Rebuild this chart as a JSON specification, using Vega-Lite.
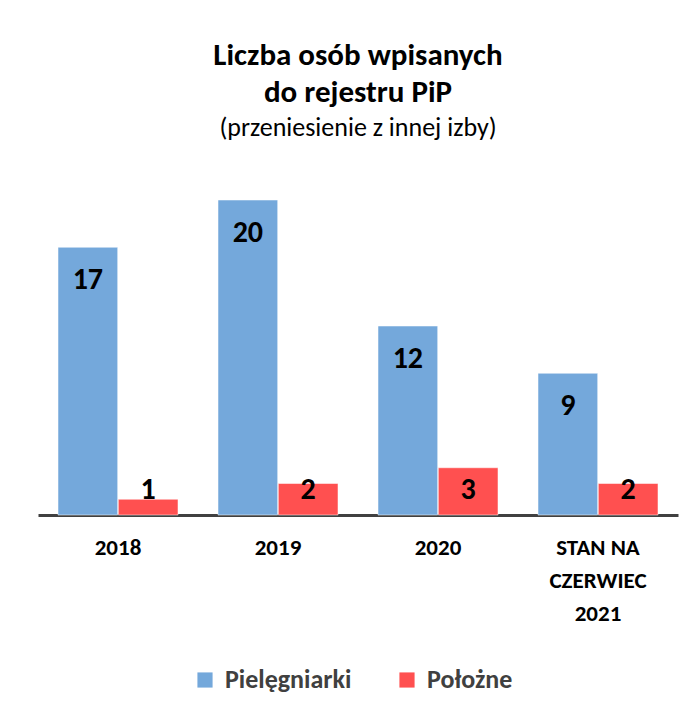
{
  "$schema": "https://vega.github.io/schema/vega-lite/v6.json",
  "width": 640,
  "height": 315,
  "padding": {"left": 38, "top": 39, "right": 20, "bottom": 10},
  "background": "white",
  "title": {
    "text": ["Liczba osób wpisanych", "do rejestru PiP"],
    "subtitle": "(przeniesienie z innej izby)",
    "fontSize": 31,
    "fontWeight": "bold",
    "lineHeight": 37,
    "font": "Carlito, Lato",
    "color": "black",
    "subtitleFont": "Carlito, Lato",
    "subtitleFontSize": 26,
    "subtitleColor": "black",
    "subtitlePadding": 6,
    "anchor": "middle",
    "offset": 58
  },
  "data": {
    "values": [
      {"category": "2018", "series": "Pielęgniarki", "value": 17},
      {"category": "2018", "series": "Położne", "value": 1},
      {"category": "2019", "series": "Pielęgniarki", "value": 20},
      {"category": "2019", "series": "Położne", "value": 2},
      {"category": "2020", "series": "Pielęgniarki", "value": 12},
      {"category": "2020", "series": "Położne", "value": 3},
      {"category": "STAN NA|CZERWIEC|2021", "series": "Pielęgniarki", "value": 9},
      {"category": "STAN NA|CZERWIEC|2021", "series": "Położne", "value": 2}
    ]
  },
  "encoding": {
    "x": {
      "field": "category",
      "type": "nominal",
      "sort": null,
      "scale": {"paddingInner": 0.25, "paddingOuter": 0.125},
      "axis": {
        "title": null,
        "labelAngle": 0,
        "labelExpr": "split(datum.label, '|')",
        "labelFont": "Carlito, Lato",
        "labelFontSize": 23,
        "labelFontWeight": "bold",
        "labelColor": "black",
        "labelLineHeight": 33,
        "labelPadding": 21,
        "labelBaseline": "top",
        "ticks": false,
        "domainColor": "#404040",
        "domainWidth": 3
      }
    },
    "xOffset": {"field": "series", "type": "nominal", "sort": ["Pielęgniarki", "Położne"], "scale": {"paddingInner": 0.01}}
  },
  "layer": [
    {
      "mark": {"type": "bar", "stroke": "white", "strokeOpacity": 0.5, "strokeWidth": 1},
      "encoding": {
        "y": {"field": "value", "type": "quantitative", "scale": {"domain": [0, 20], "nice": false}, "axis": null},
        "color": {
          "field": "series",
          "type": "nominal",
          "sort": ["Pielęgniarki", "Położne"],
          "scale": {"domain": ["Pielęgniarki", "Położne"], "range": ["#74A8DB", "#FF5050"]},
          "legend": {
            "title": null,
            "orient": "none",
            "legendX": 154,
            "legendY": 467,
            "direction": "horizontal",
            "symbolType": "square",
            "symbolSize": 230,
            "symbolStrokeWidth": 0,
            "labelFont": "Carlito, Lato",
            "labelFontSize": 26,
            "labelFontWeight": "bold",
            "labelColor": "#404040",
            "labelOffset": 7,
            "columnPadding": 42
          }
        }
      }
    },
    {
      "transform": [{"filter": "datum.series === 'Pielęgniarki'"}],
      "mark": {"type": "text", "font": "Carlito, Lato", "fontSize": 30, "fontWeight": "bold", "color": "black", "baseline": "middle", "dy": 33},
      "encoding": {
        "y": {"field": "value", "type": "quantitative"},
        "text": {"field": "value", "type": "quantitative"}
      }
    },
    {
      "transform": [{"filter": "datum.series === 'Położne'"}],
      "mark": {"type": "text", "font": "Carlito, Lato", "fontSize": 30, "fontWeight": "bold", "color": "black", "baseline": "middle"},
      "encoding": {
        "y": {"datum": 1.6, "type": "quantitative"},
        "text": {"field": "value", "type": "quantitative"}
      }
    }
  ],
  "config": {"view": {"stroke": null}}
}
